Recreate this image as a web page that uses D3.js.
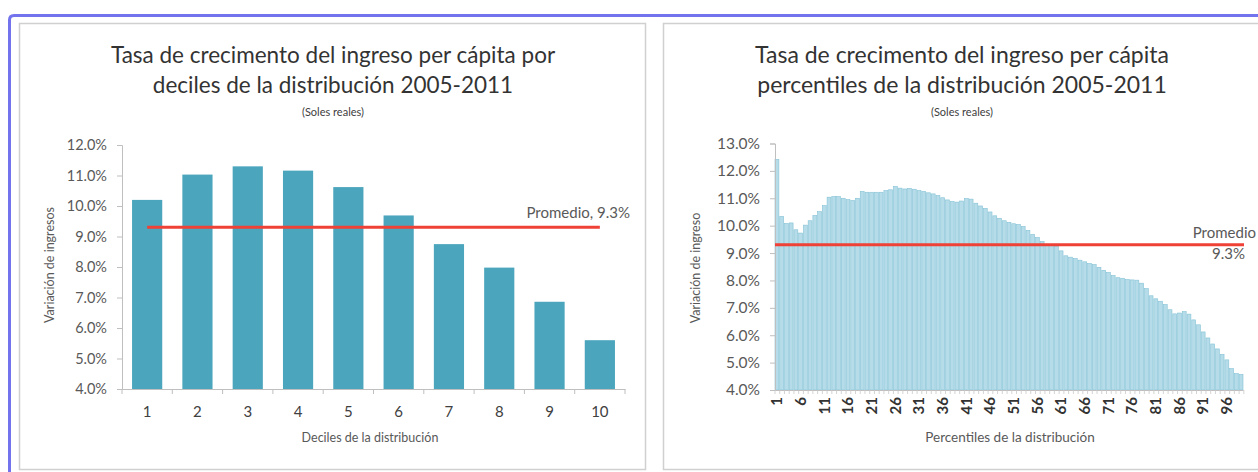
<!DOCTYPE html>
<html><head><meta charset="utf-8">
<script src="https://cdn.jsdelivr.net/npm/d3@7"></script>
<style>
html,body{margin:0;padding:0;background:#fff;}
svg{display:block;}
text{font-family:Lato,"Noto Sans",sans-serif;}
</style></head>
<body><svg id="c" width="1258" height="472"></svg>
<script>
// ---- data ----
const deciles = [1,2,3,4,5,6,7,8,9,10];
const decileValues = [10.2,11.03,11.3,11.16,10.62,9.69,8.75,7.98,6.86,5.6];
const percentiles = d3.range(1,100);
const percentileValues = [
12.42,10.34,10.08,10.10,9.85,9.73,10.02,10.18,10.37,10.51,
10.73,11.04,11.06,11.06,11.0,10.95,10.92,11.0,11.25,11.22,
11.22,11.22,11.22,11.28,11.31,11.43,11.37,11.34,11.36,11.33,
11.28,11.25,11.2,11.16,11.1,11.02,10.94,10.88,10.86,10.9,
10.99,10.97,10.82,10.72,10.63,10.5,10.36,10.27,10.18,10.12,
10.07,10.04,9.97,9.83,9.68,9.57,9.42,9.3,9.28,9.25,
9.08,8.9,8.85,8.8,8.74,8.68,8.62,8.58,8.48,8.37,
8.29,8.18,8.1,8.08,8.03,8.02,8.01,7.9,7.7,7.44,
7.33,7.24,7.12,6.93,6.78,6.81,6.86,6.77,6.56,6.38,
6.12,5.9,5.68,5.5,5.3,5.1,4.78,4.6,4.57];
const average = 9.3;
const decileTicks = [4,5,6,7,8,9,10,11,12];
const percentileTicks = [4,5,6,7,8,9,10,11,12,13];
const percentileLabelTicks = d3.range(1,100,5);
const titleLeft = ["Tasa de crecimento del ingreso per cápita por","deciles de la distribución 2005-2011"];
const titleRight = ["Tasa de crecimento del ingreso per cápita","percentiles de la distribución 2005-2011"];
const subtitle = "(Soles reales)";

const svg = d3.select("#c");
const fmt = v => d3.format(".1f")(v) + "%";
const textCol = "#595959";

// outer blue frame
svg.append("path").attr("d","M9.5,472 L9.5,20 Q9.5,15.5 14,15.5 L1258,15.5")
  .attr("fill","none").attr("stroke","#7373ee").attr("stroke-width",3);
// panels
svg.append("rect").attr("x",19.5).attr("y",23.5).attr("width",626).attr("height",446)
  .attr("fill","#fff").attr("stroke","#d0d0d0").attr("stroke-width",1.5);
svg.append("rect").attr("x",663.5).attr("y",23.5).attr("width",600).attr("height",446)
  .attr("fill","#fff").attr("stroke","#d0d0d0").attr("stroke-width",1.5);

function titles(cx, lines, fs){
  lines.forEach((t,i)=>svg.append("text").attr("x",cx).attr("y",63+i*30)
    .attr("text-anchor","middle").attr("font-size",fs).attr("fill","#333").text(t));
  svg.append("text").attr("x",cx).attr("y",116).attr("text-anchor","middle")
    .attr("font-size",11).attr("fill","#404040").text(subtitle);
}

// ---------- LEFT CHART ----------
titles(333, titleLeft, 22.5);
const xL = d3.scaleBand().domain(deciles).range([122,625]).paddingInner(0.4).paddingOuter(0.2);
const yL = d3.scaleLinear().domain([4,12]).range([389,145]);
svg.append("g").selectAll("rect").data(deciles).join("rect")
  .attr("x",d=>xL(d)).attr("width",xL.bandwidth())
  .attr("y",(d,i)=>yL(decileValues[i])).attr("height",(d,i)=>yL(4)-yL(decileValues[i]))
  .attr("fill","#4aa5bd");
const axYL = svg.append("g").attr("transform","translate(122,0)")
  .call(d3.axisLeft(yL).tickValues(decileTicks).tickFormat(fmt).tickSize(5).tickPadding(10));
const axXL = svg.append("g").attr("transform","translate(0,389)")
  .call(d3.axisBottom(xL).tickSize(0).tickPadding(17));
const stepL = xL.step();
svg.append("g").selectAll("line").data(d3.range(11)).join("line")
  .attr("x1",i=>122+i*stepL).attr("x2",i=>122+i*stepL).attr("y1",389).attr("y2",394)
  .attr("stroke","#bfbfbf");
[axYL,axXL].forEach(a=>{
  a.select(".domain").attr("stroke","#bfbfbf");
  a.selectAll(".tick line").attr("stroke","#bfbfbf");
  a.selectAll("text").attr("fill",textCol).style("font-family","Lato,sans-serif");
});
axYL.selectAll("text").attr("font-size",14.5);
axXL.selectAll("text").attr("font-size",15).attr("fill","#404040");
svg.append("line").attr("x1",xL(1)+xL.bandwidth()/2).attr("x2",xL(10)+xL.bandwidth()/2)
  .attr("y1",yL(average)).attr("y2",yL(average)).attr("stroke","#ef4136").attr("stroke-width",3);
svg.append("text").attr("x",630).attr("y",218).attr("text-anchor","end").attr("font-size",15)
  .attr("fill",textCol).text("Promedio, 9.3%");
svg.append("text").attr("x",370).attr("y",442).attr("text-anchor","middle").attr("font-size",12.5)
  .attr("fill",textCol).text("Deciles de la distribución");
svg.append("text").attr("transform","translate(54,265) rotate(-90)").attr("text-anchor","middle")
  .attr("font-size",12.5).attr("fill",textCol).text("Variación de ingresos");

// ---------- RIGHT CHART ----------
titles(962, titleRight, 23);
const xR = d3.scaleBand().domain(percentiles).range([775,1243]).paddingInner(0.18).paddingOuter(0);
const yR = d3.scaleLinear().domain([4,13]).range([390,143.5]);
svg.append("g").selectAll("rect").data(percentiles).join("rect")
  .attr("x",d=>xR(d)).attr("width",xR.bandwidth())
  .attr("y",(d,i)=>yR(percentileValues[i])).attr("height",(d,i)=>yR(4)-yR(percentileValues[i]))
  .attr("fill","#b5dce8").attr("stroke","#84c2d6").attr("stroke-width",0.6);
const axYR = svg.append("g").attr("transform","translate(775,0)")
  .call(d3.axisLeft(yR).tickValues(percentileTicks).tickFormat(fmt).tickSize(5).tickPadding(10));
const axXR = svg.append("g").attr("transform","translate(0,390)")
  .call(d3.axisBottom(xR).tickValues(percentileLabelTicks).tickSize(0).tickPadding(7));
svg.append("g").selectAll("line").data(d3.range(100)).join("line")
  .attr("x1",i=>775+i*xR.step()).attr("x2",i=>775+i*xR.step()).attr("y1",390).attr("y2",394)
  .attr("stroke","#c8c8c8").attr("stroke-width",0.8);
[axYR,axXR].forEach(a=>{
  a.select(".domain").attr("stroke","#bfbfbf");
  a.selectAll(".tick line").attr("stroke","#bfbfbf");
  a.selectAll("text").attr("fill",textCol).style("font-family","Lato,sans-serif");
});
axYR.selectAll("text").attr("font-size",15.5);
axXR.selectAll("text").attr("font-size",15).attr("fill","#333").attr("font-weight","bold")
  .attr("text-anchor","end").attr("dy","0.35em")
  .attr("transform","translate(0,7) rotate(-90)")
  .attr("x",0).attr("y",0);
svg.append("line").attr("x1",775).attr("x2",1244).attr("y1",yR(average)).attr("y2",yR(average))
  .attr("stroke","#ef4136").attr("stroke-width",3);
svg.append("text").attr("x",1256).attr("y",238).attr("text-anchor","end").attr("font-size",15)
  .attr("fill",textCol).text("Promedio");
svg.append("text").attr("x",1245).attr("y",259).attr("text-anchor","end").attr("font-size",15)
  .attr("fill",textCol).text("9.3%");
svg.append("text").attr("x",1010).attr("y",442).attr("text-anchor","middle").attr("font-size",13.5)
  .attr("fill",textCol).text("Percentiles de la distribución");
svg.append("text").attr("transform","translate(700,268) rotate(-90)").attr("text-anchor","middle")
  .attr("font-size",12.5).attr("fill",textCol).text("Variación de ingreso");
</script></body></html>
